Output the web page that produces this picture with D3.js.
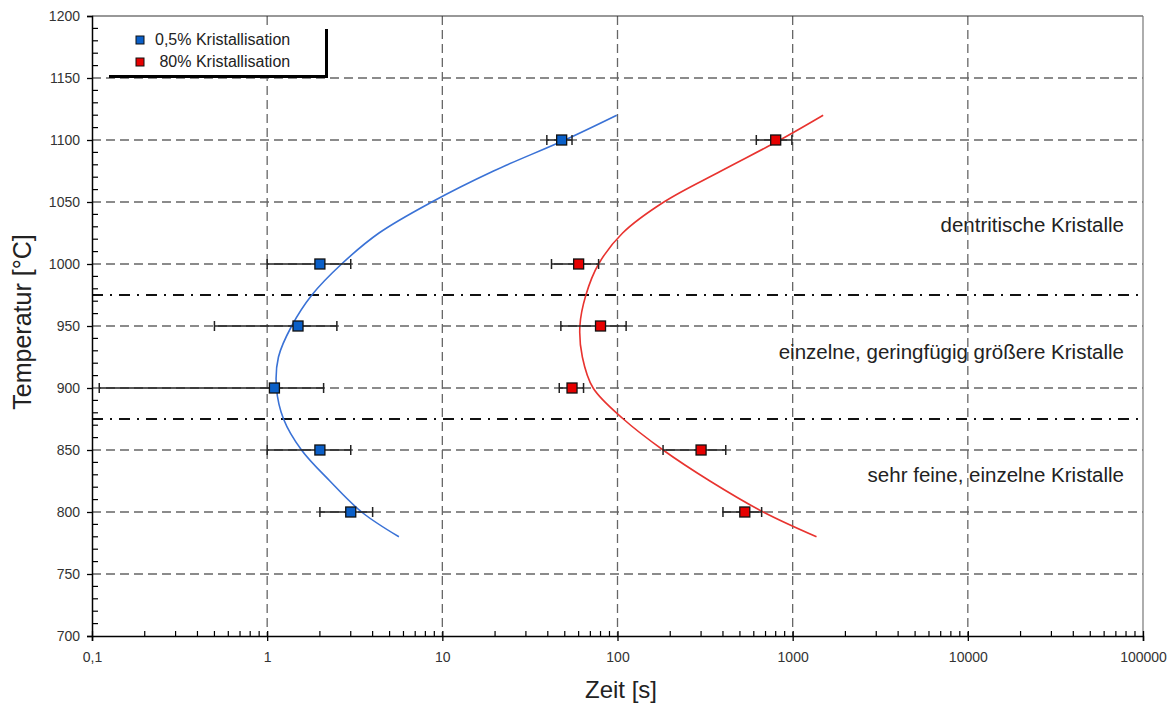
<!DOCTYPE html>
<html><head><meta charset="utf-8">
<script src="https://cdn.jsdelivr.net/npm/d3@7"></script>
<style>body{margin:0;background:#fff}svg{display:block}text{font-family:"Liberation Sans",Arial,sans-serif}</style>
</head><body><svg id="c" width="1176" height="704"></svg>
<script>
// ---- data ----
const xTickValues = [0.1, 1, 10, 100, 1000, 10000, 100000];
const xTickLabels = ["0,1", "1", "10", "100", "1000", "10000", "100000"];
const yTickValues = [700, 750, 800, 850, 900, 950, 1000, 1050, 1100, 1150, 1200];
const seriesNames = ["0,5% Kristallisation", " 80% Kristallisation"];
const pointTemps = [1100, 1000, 950, 900, 850, 800];
const blueTime = [48, 2, 1.5, 1.1, 2, 3];
const blueErrLow = [39.5, 1, 0.5, 0.11, 1, 2];
const blueErrHigh = [55, 3, 2.5, 2.1, 3, 4];
const redTime = [800, 60, 80, 55, 300, 533];
const redErrLow = [620, 42, 47.5, 46.5, 182, 400];
const redErrHigh = [990, 78, 112, 64, 415, 665];
const curveTemps = [1120, 1100, 1075, 1050, 1025, 1000, 975, 950, 925, 900, 875, 850, 825, 800, 780];
const blueCurveTime = [99, 50, 19.6, 8.7, 4.35, 2.66, 1.8, 1.38, 1.16, 1.13, 1.24, 1.57, 2.28, 3.46, 5.65];
const redCurveTime = [1493, 845, 390, 184, 107, 78, 66, 61, 63, 72.6, 108, 182, 337, 679, 1368];
const boundaryTemps = [975, 875];
const regionLabels = ["dentritische Kristalle", "einzelne, geringfügig größere Kristalle", "sehr feine, einzelne Kristalle"];
const regionLabelTemps = [1030, 927.5, 828.5];

// ---- chart ----
const svg = d3.select("#c");
const L = 92, R = 1143, T = 16, B = 636;
const x = d3.scaleLog().domain([0.1, 100000]).range([L, R]);
const y = d3.scaleLinear().domain([700, 1200]).range([B, T]);
const blue = "#0a5fc8", red = "#e60000";

// grid
const g = svg.append("g");
g.selectAll(".vg").data(xTickValues.slice(1, -1)).join("line")
  .attr("x1", d => x(d)).attr("x2", d => x(d)).attr("y1", T).attr("y2", B)
  .attr("stroke", "#666").attr("stroke-width", 1.3).attr("stroke-dasharray", "9,5");
g.selectAll(".hg").data(yTickValues.slice(1, -1)).join("line")
  .attr("x1", L).attr("x2", R).attr("y1", d => y(d)).attr("y2", d => y(d))
  .attr("stroke", "#666").attr("stroke-width", 1.3).attr("stroke-dasharray", "9,5");
// boundaries
g.selectAll(".bd").data(boundaryTemps).join("line")
  .attr("x1", L).attr("x2", R).attr("y1", d => y(d)).attr("y2", d => y(d))
  .attr("stroke", "#111").attr("stroke-width", 2).attr("stroke-dasharray", "11,7,2,7");

// frame
svg.append("line").attr("x1", L).attr("x2", R).attr("y1", T).attr("y2", T).attr("stroke", "#333").attr("stroke-width", 1.2);
svg.append("line").attr("x1", R).attr("x2", R).attr("y1", T).attr("y2", B).attr("stroke", "#777").attr("stroke-width", 1.2);

// axes
const xAxis = d3.axisBottom(x).tickValues(xTickValues).tickFormat((d, i) => xTickLabels[i]).tickSize(5).tickPadding(11);
const xa = svg.append("g").attr("transform", `translate(0,${B})`).call(xAxis);
xa.select(".domain").attr("stroke", "#000").attr("stroke-width", 1.5);
xa.selectAll(".tick line").attr("stroke", "#000").attr("stroke-width", 1.3).attr("y1", -5);
xa.selectAll("text").attr("font-size", 14).attr("font-family", "DejaVu Sans").attr("fill", "#333");
// x minor ticks
const minors = [];
for (let e = -1; e < 5; e++) for (let k = 2; k <= 9; k++) minors.push(k * Math.pow(10, e));
svg.append("g").selectAll("line").data(minors).join("line")
  .attr("x1", d => x(d)).attr("x2", d => x(d)).attr("y1", B).attr("y2", B - 5)
  .attr("stroke", "#000").attr("stroke-width", 1.2);

const yAxis = d3.axisLeft(y).tickValues(yTickValues).tickFormat(d3.format("d")).tickSize(5).tickPadding(7);
const ya = svg.append("g").attr("transform", `translate(${L},0)`).call(yAxis);
ya.select(".domain").attr("stroke", "#000").attr("stroke-width", 1.5);
ya.selectAll(".tick line").attr("stroke", "#000").attr("stroke-width", 1.3);
ya.selectAll("text").attr("font-size", 14).attr("font-family", "DejaVu Sans").attr("fill", "#333");
const yMinors = d3.range(700, 1201, 10).filter(d => d % 50 !== 0);
svg.append("g").selectAll("line").data(yMinors).join("line")
  .attr("x1", L).attr("x2", L + 6).attr("y1", d => y(d)).attr("y2", d => y(d))
  .attr("stroke", "#000").attr("stroke-width", 1.2);

// curves
const line = d3.line().x(d => x(d[0])).y(d => y(d[1])).curve(d3.curveCatmullRom.alpha(0.5));
svg.append("path").datum(curveTemps.map((t, i) => [blueCurveTime[i], t]))
  .attr("d", line).attr("fill", "none").attr("stroke", "#3a72d6").attr("stroke-width", 1.6);
svg.append("path").datum(curveTemps.map((t, i) => [redCurveTime[i], t]))
  .attr("d", line).attr("fill", "none").attr("stroke", "#e8332f").attr("stroke-width", 1.6);

// error bars + markers
function drawSeries(times, lo, hi, color) {
  const gg = svg.append("g");
  const data = pointTemps.map((t, i) => ({t, v: times[i], lo: lo[i], hi: hi[i]}));
  gg.selectAll(".eb").data(data).join("line")
    .attr("x1", d => x(d.lo)).attr("x2", d => x(d.hi)).attr("y1", d => y(d.t)).attr("y2", d => y(d.t))
    .attr("stroke", "#222").attr("stroke-width", 1.5);
  gg.selectAll(".cl").data(data).join("line")
    .attr("x1", d => x(d.lo)).attr("x2", d => x(d.lo)).attr("y1", d => y(d.t) - 5).attr("y2", d => y(d.t) + 5)
    .attr("stroke", "#222").attr("stroke-width", 1.5);
  gg.selectAll(".ch").data(data).join("line")
    .attr("x1", d => x(d.hi)).attr("x2", d => x(d.hi)).attr("y1", d => y(d.t) - 5).attr("y2", d => y(d.t) + 5)
    .attr("stroke", "#222").attr("stroke-width", 1.5);
  gg.selectAll("rect").data(data).join("rect")
    .attr("x", d => x(d.v) - 5).attr("y", d => y(d.t) - 5).attr("width", 10).attr("height", 10)
    .attr("fill", color).attr("stroke", "#111").attr("stroke-width", 1.3);
}
drawSeries(blueTime, blueErrLow, blueErrHigh, blue);
drawSeries(redTime, redErrLow, redErrHigh, red);

// region labels
svg.append("g").selectAll("text").data(regionLabels).join("text")
  .attr("x", 1124).attr("y", (d, i) => y(regionLabelTemps[i]))
  .attr("text-anchor", "end").attr("dominant-baseline", "middle")
  .attr("font-size", 20.5).attr("fill", "#222").text(d => d);

// legend
const lg = svg.append("g");
lg.append("rect").attr("x", 109).attr("y", 29).attr("width", 219).attr("height", 49).attr("fill", "#000");
lg.append("rect").attr("x", 106).attr("y", 26).attr("width", 219).attr("height", 49).attr("fill", "#fff");
[blue, red].forEach((c, i) => {
  lg.append("rect").attr("x", 136).attr("y", 36 + i * 22).attr("width", 8).attr("height", 8)
    .attr("fill", c).attr("stroke", "#111").attr("stroke-width", 1);
  lg.append("text").attr("x", 155).attr("y", 41 + i * 22).attr("dominant-baseline", "middle")
    .attr("font-size", 16).attr("fill", "#222").attr("xml:space", "preserve").style("white-space", "pre").text(seriesNames[i]);
});

// axis titles
svg.append("text").attr("x", 621).attr("y", 698).attr("text-anchor", "middle")
  .attr("font-size", 24).attr("fill", "#222").text("Zeit [s]");
svg.append("text").attr("transform", "translate(31,322) rotate(-90)").attr("text-anchor", "middle")
  .attr("font-size", 25).attr("fill", "#222").text("Temperatur [°C]");
</script></body></html>
